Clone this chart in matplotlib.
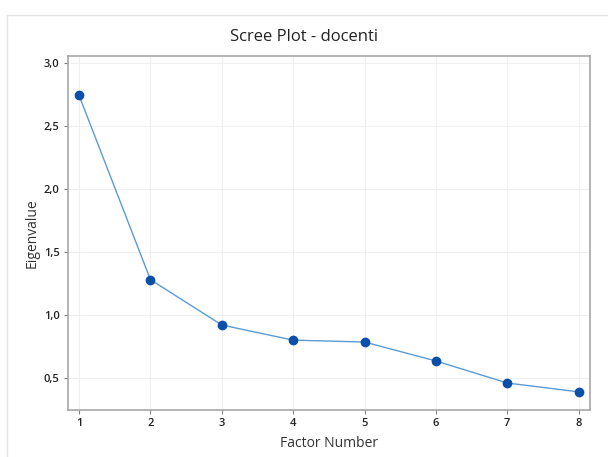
import matplotlib.pyplot as plt
from matplotlib.patches import Rectangle
from matplotlib.ticker import FuncFormatter

# Scree plot data
factor_number = [1, 2, 3, 4, 5, 6, 7, 8]
eigenvalue = [2.74, 1.28, 0.92, 0.80, 0.785, 0.635, 0.46, 0.39]
y_ticks = [0.5, 1.0, 1.5, 2.0, 2.5, 3.0]

plt.rcParams['font.family'] = ['Open Sans', 'DejaVu Sans']

fig = plt.figure(figsize=(6.08, 4.57), dpi=100)
fig.patch.set_facecolor('white')

# light frame around the graph area
fig.patches.append(Rectangle((7 / 608, -0.05), 1.1, (457 - 15) / 457 + 0.05,
                             transform=fig.transFigure, fill=False,
                             edgecolor='#e3e3e3', linewidth=1))

ax = fig.add_axes([68 / 608, 1 - 410 / 457, (590 - 68) / 608, (410 - 56) / 457])

ax.plot(factor_number, eigenvalue, '-', color='#5b9bd5', linewidth=1, zorder=2)
ax.plot(factor_number, eigenvalue, 'o', color='#0a4fa8', markersize=6, zorder=3)

ax.set_xlim(0.845, 8.16)
ax.set_ylim(0.246, 3.053)
ax.set_xticks(factor_number)
ax.set_yticks(y_ticks)
ax.yaxis.set_major_formatter(FuncFormatter(lambda v, p: f'{v:.1f}'.replace('.', ',')))

ax.grid(True, color='#f0f0f0', linewidth=0.8, zorder=0)
ax.set_axisbelow(True)
for s in ax.spines.values():
    s.set_color('#a8a8a8')
    s.set_linewidth(1.2)

ax.tick_params(axis='both', length=3, width=0.8, color='#808080',
               labelsize=8, labelcolor='#222222', pad=3)
for lbl in ax.get_xticklabels() + ax.get_yticklabels():
    lbl.set_fontweight('semibold')

ax.set_xlabel('Factor Number', fontsize=10, color='#333333', labelpad=5)
ax.set_ylabel('Eigenvalue', fontsize=10, color='#333333', labelpad=3)
fig.text(0.5, 1 - 37 / 457, 'Scree Plot - docenti', ha='center', va='center',
         fontsize=12, color='#222222')

fig.savefig('out.png', dpi=100)
